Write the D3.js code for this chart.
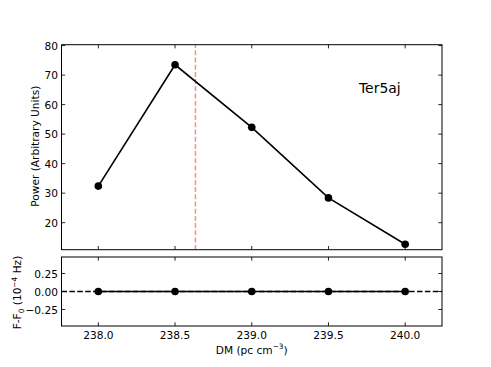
<!DOCTYPE html>
<html><head><meta charset="utf-8">
<script src="https://cdn.jsdelivr.net/npm/d3@7"></script>
<style>body{margin:0;background:#fff}svg{display:block}text{font-family:"DejaVu Sans",sans-serif;fill:#000}</style>
</head><body>
<svg id="c" width="491" height="367"></svg>
<script>
const dms = [238.0, 238.5, 239.0, 239.5, 240.0];
const power = [32.4, 73.5, 52.3, 28.4, 12.7];
const freqOffset = [0, 0, 0, 0, 0];
const bestDM = 238.633;
const label = "Ter5aj";
const xTicks = [238.0, 238.5, 239.0, 239.5, 240.0];
const yTicksTop = [20, 30, 40, 50, 60, 70, 80];
const yTicksBot = [-0.25, 0.0, 0.25];

const FS = 10.6;
const svg = d3.select("#c");
const x = d3.scaleLinear().domain([237.76, 240.24]).range([61.5, 442]);
const yT = d3.scaleLinear().domain([10.85, 80.3]).range([249.7, 44.7]);
const yB = d3.scaleLinear().domain([-0.48, 0.48]).range([326, 257]);
const TL = 3.7;

function panel(y, yTicks, fmt, showX) {
  const g = svg.append("g");
  const [x0, x1] = x.range(), [yb, yt] = y.range();
  xTicks.forEach(t => {
    const px = x(t);
    g.append("line").attr("x1", px).attr("x2", px).attr("y1", yb).attr("y2", yb - TL).attr("stroke", "#000").attr("stroke-width", 0.85);
    g.append("line").attr("x1", px).attr("x2", px).attr("y1", yt).attr("y2", yt + TL).attr("stroke", "#000").attr("stroke-width", 0.85);
    if (showX) g.append("text").attr("x", px).attr("y", yb + 12.8).attr("text-anchor", "middle").attr("font-size", FS).text(t.toFixed(1));
  });
  yTicks.forEach(t => {
    const py = y(t);
    g.append("line").attr("x1", x0).attr("x2", x0 + TL).attr("y1", py).attr("y2", py).attr("stroke", "#000").attr("stroke-width", 0.85);
    g.append("line").attr("x1", x1).attr("x2", x1 - TL).attr("y1", py).attr("y2", py).attr("stroke", "#000").attr("stroke-width", 0.85);
    g.append("text").attr("x", x0 - 3.6).attr("y", py + 4.3).attr("text-anchor", "end").attr("font-size", FS).text(fmt(t));
  });
  return g;
}

// top panel
panel(yT, yTicksTop, d => d3.format("d")(d), false);
svg.append("line").attr("x1", x(bestDM)).attr("x2", x(bestDM)).attr("y1", yT.range()[0]).attr("y2", yT.range()[1])
  .attr("stroke", "#ff8c8c").attr("stroke-width", 1.5).attr("stroke-dasharray", "5,2.2");
svg.append("path").datum(dms.map((d, i) => [d, power[i]]))
  .attr("d", d3.line().x(d => x(d[0])).y(d => yT(d[1])))
  .attr("fill", "none").attr("stroke", "#000").attr("stroke-width", 1.6);
svg.selectAll(".pt").data(dms.map((d, i) => [d, power[i]])).enter().append("circle")
  .attr("cx", d => x(d[0])).attr("cy", d => yT(d[1])).attr("r", 3.8).attr("fill", "#000");
svg.append("text").attr("x", 359).attr("y", 92.5).attr("font-size", 13.9).text(label);
svg.append("rect").attr("x", x.range()[0]).attr("y", yT.range()[1]).attr("width", x.range()[1] - x.range()[0])
  .attr("height", yT.range()[0] - yT.range()[1]).attr("fill", "none").attr("stroke", "#000").attr("stroke-width", 1);
svg.append("text").attr("transform", `translate(38.5,${(yT.range()[0] + yT.range()[1]) / 2 - 1}) rotate(-90)`)
  .attr("text-anchor", "middle").attr("font-size", FS).text("Power (Arbitrary Units)");

// bottom panel
const fmtB = d => (d < 0 ? "\u2212" : "") + Math.abs(d).toFixed(2);
panel(yB, yTicksBot, fmtB, true);
svg.append("line").attr("x1", x.range()[0]).attr("x2", x.range()[1]).attr("y1", yB(0)).attr("y2", yB(0))
  .attr("stroke", "#000").attr("stroke-width", 1.3).attr("stroke-dasharray", "5.5,2.4");
svg.append("path").datum(dms.map((d, i) => [d, freqOffset[i]]))
  .attr("d", d3.line().x(d => x(d[0])).y(d => yB(d[1])))
  .attr("fill", "none").attr("stroke", "#000").attr("stroke-width", 1.6);
svg.selectAll(".pb").data(dms.map((d, i) => [d, freqOffset[i]])).enter().append("circle")
  .attr("cx", d => x(d[0])).attr("cy", d => yB(d[1])).attr("r", 3.8).attr("fill", "#000");
svg.append("rect").attr("x", x.range()[0]).attr("y", yB.range()[1]).attr("width", x.range()[1] - x.range()[0])
  .attr("height", yB.range()[0] - yB.range()[1]).attr("fill", "none").attr("stroke", "#000").attr("stroke-width", 1);

const yl = svg.append("text").attr("transform", `translate(21,${(yB.range()[0] + yB.range()[1]) / 2 + 1}) rotate(-90)`)
  .attr("text-anchor", "middle").attr("font-size", FS);
yl.append("tspan").text("F-F");
yl.append("tspan").attr("font-size", 7.4).attr("dy", 2.6).text("0");
yl.append("tspan").attr("dy", -2.6).text(" (10");
yl.append("tspan").attr("font-size", 7.4).attr("dy", -4.2).text("\u22124");
yl.append("tspan").attr("dy", 4.2).text(" Hz)");

const xl = svg.append("text").attr("x", (x.range()[0] + x.range()[1]) / 2).attr("y", 353.5)
  .attr("text-anchor", "middle").attr("font-size", FS);
xl.append("tspan").text("DM (pc cm");
xl.append("tspan").attr("font-size", 7.4).attr("dy", -4.2).text("\u22123");
xl.append("tspan").attr("dy", 4.2).text(")");
</script>
</body></html>
